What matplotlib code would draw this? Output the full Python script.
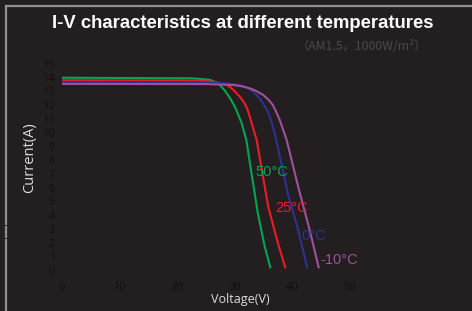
import matplotlib
matplotlib.use("Agg")
import matplotlib.pyplot as plt
from matplotlib.lines import Line2D

# ---- data ----
v_50 = [0, 22.2, 24.5, 25.7, 26.6, 27.4, 28.1, 28.8, 29.4, 30.0, 30.6, 31.2, 32.0, 32.9, 34.0, 35.2, 36.2]
i_50 = [14.0, 13.96, 13.9, 13.84, 13.7, 13.47, 13.15, 12.75, 12.35, 11.9, 11.3, 10.68, 9.47, 7.04, 4.13, 1.70, 0.12]

v_25 = [0, 22.0, 24.5, 26.2, 27.5, 28.6, 29.5, 30.3, 31.0, 31.7, 32.2, 32.6, 33.2, 33.8, 35.8, 37.5, 38.8]
i_25 = [13.82, 13.8, 13.77, 13.71, 13.62, 13.47, 13.22, 12.87, 12.55, 12.14, 11.7, 11.17, 10.3, 9.47, 4.61, 1.94, 0.12]

v_0 = [0, 24.0, 28.6, 30.9, 32.1, 33.2, 34.1, 34.9, 35.5, 36.1, 36.7, 37.2, 39.2, 41.0, 42.6]
i_0 = [13.69, 13.67, 13.6, 13.47, 13.27, 12.99, 12.6, 12.14, 11.7, 11.17, 10.3, 9.47, 5.59, 2.91, 0.12]

v_m10 = [0, 25.0, 29.7, 31.3, 32.6, 33.8, 34.9, 35.8, 36.6, 37.2, 37.8, 38.4, 39.0, 41.0, 43.0, 44.6]
i_m10 = [13.55, 13.54, 13.47, 13.37, 13.23, 13.02, 12.75, 12.42, 12.02, 11.5, 10.93, 10.2, 9.47, 6.07, 2.91, 0.12]

series_labels = ["50°C", "25°C", "0°C", "-10°C"]
label_pos = [(36.5, 7.1), (39.8, 4.5), (43.7, 2.5), (48.2, 0.75)]
x_ticks = [0, 10, 20, 30, 40, 50]
y_ticks = list(range(0, 16))

colors = ["#00a651", "#ed1c24", "#2e3192", "#a0509c"]

BG = "#231f20"
W, H = 472, 311
fig = plt.figure(figsize=(W / 100, H / 100), dpi=100, facecolor=BG)

ax = fig.add_axes([62 / W, (H - 270) / H, 288 / W, 206 / H])
ax.set_facecolor(BG)
for s in ax.spines.values():
    s.set_visible(False)

for (vv, ii), c in zip([(v_50, i_50), (v_25, i_25), (v_0, i_0), (v_m10, i_m10)], colors):
    ax.plot(vv, ii, color=c, lw=1.5, solid_capstyle="butt", solid_joinstyle="round",
            clip_on=False)

for lab, (x, y), c in zip(series_labels, label_pos, colors):
    ax.text(x, y, lab, color=c, fontsize=10.5, family="Liberation Sans",
            ha="center", va="center")

ax.set_xlim(0, 50)
ax.set_ylim(0, 15)
ax.set_xticks(x_ticks)
ax.set_yticks(y_ticks)
ax.tick_params(length=0, colors="#101010", labelsize=8)
ax.tick_params(axis="y", pad=5)
ax.tick_params(axis="x", pad=9)
for t in ax.get_xticklabels() + ax.get_yticklabels():
    t.set_family("Open Sans")

fig.text(240 / W, 1 - 299 / H, "Voltage(V)", color="#dcdcdc", fontsize=9,
         family="Open Sans", ha="center", va="center")
fig.text(30 / W, 1 - 158 / H, "Current(A)", color="#dcdcdc", fontsize=10.5,
         family="Open Sans", ha="center", va="center", rotation=90)

fig.text(243 / W, 1 - 24 / H, "I-V characteristics at different temperatures",
         color="white", fontsize=13.3, fontweight="bold", family="Liberation Sans",
         ha="center", va="center")
fig.text(362 / W, 1 - 47 / H, "（AM1.5，1000W/m²）", color="#4a4a4a", fontsize=8.8,
         family=["Noto Sans CJK SC", "DejaVu Sans"], ha="center", va="center")

# frame
fc = "#8f8f8f"
fig.add_artist(Line2D([5.5 / W, 1], [1 - 5.5 / H, 1 - 5.5 / H], color=fc, lw=1.6,
                      transform=fig.transFigure))
for y0, y1 in [(5.5, 224), (227, 237), (240, 311)]:
    fig.add_artist(Line2D([5.5 / W, 5.5 / W], [1 - y0 / H, 1 - y1 / H], color=fc,
                          lw=1.6, transform=fig.transFigure))

fig.savefig("out.png", dpi=100, facecolor=BG)
